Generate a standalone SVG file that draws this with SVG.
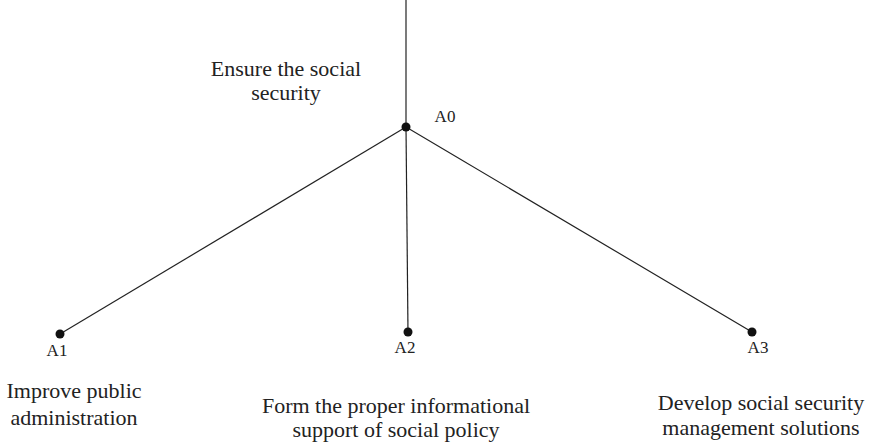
<svg xmlns="http://www.w3.org/2000/svg" width="870" height="442" viewBox="0 0 870 442">
<style>
.t{font-family:"Liberation Serif","Times New Roman",serif;font-size:22px;fill:#222;text-anchor:middle}
.l{font-family:"Liberation Serif","Times New Roman",serif;font-size:17px;fill:#222;text-anchor:middle}
.c{stroke:#222;stroke-width:1.2;fill:none}
.d{fill:#111}
</style>
<rect width="870" height="442" fill="#fff"/>
<g id="connectors">
<line class="c" x1="406" y1="0" x2="406" y2="127"/>
<line class="c" x1="406" y1="127" x2="60" y2="334"/>
<line class="c" x1="406" y1="127" x2="408" y2="332"/>
<line class="c" x1="406" y1="127" x2="752" y2="332"/>
</g>
<g id="A0">
<circle class="d" cx="406" cy="127" r="4.5"/>
<text class="l" x="445" y="122">A0</text>
<text class="t" x="286" y="76">Ensure the social</text>
<text class="t" x="286" y="100">security</text>
</g>
<g id="A1">
<circle class="d" cx="60" cy="334" r="4.5"/>
<text class="l" x="57" y="356">A1</text>
<text class="t" x="74" y="398">Improve public</text>
<text class="t" x="74" y="425">administration</text>
</g>
<g id="A2">
<circle class="d" cx="408" cy="332" r="4.5"/>
<text class="l" x="405" y="353">A2</text>
<text class="t" x="396" y="413">Form the proper informational</text>
<text class="t" x="396" y="437">support of social policy</text>
</g>
<g id="A3">
<circle class="d" cx="752" cy="332" r="4.5"/>
<text class="l" x="758" y="353">A3</text>
<text class="t" x="761" y="410">Develop social security</text>
<text class="t" x="761" y="435">management solutions</text>
</g>
</svg>
